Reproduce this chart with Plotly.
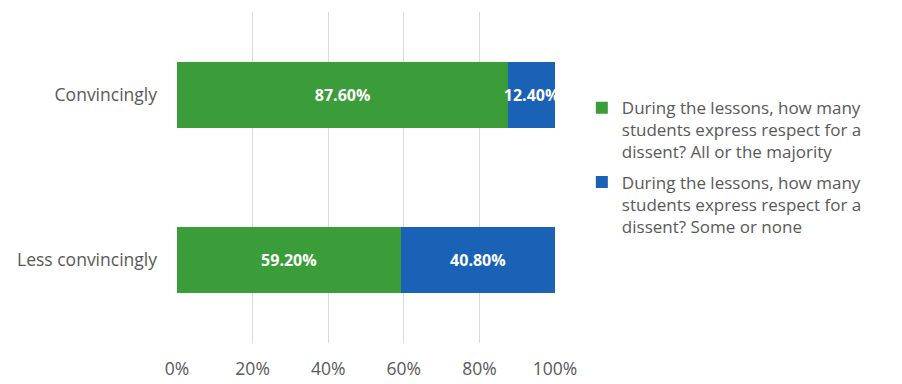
import plotly.graph_objects as go

categories = ["Less convincingly", "Convincingly"]
majority = [59.2, 87.6]
some_none = [40.8, 12.4]
series_names = [
    "During the lessons, how many<br>students express respect for a<br>dissent? All or the majority",
    "During the lessons, how many<br>students express respect for a<br>dissent? Some or none",
]
tick_vals = [0, 20, 40, 60, 80, 100]
tick_text = ["0%", "20%", "40%", "60%", "80%", "100%"]

green = "#3a9d3a"
blue = "#1a62b6"
gray_text = "#595959"
font_family = "'Open Sans', sans-serif"

fig = go.Figure()
for vals, name, color, grp in [(majority, series_names[0], green, "a"),
                               (some_none, series_names[1], blue, "b")]:
    fig.add_trace(go.Bar(
        y=categories, x=vals, orientation="h", name=name,
        marker=dict(color=color, line=dict(width=0)),
        text=[f"{v:.2f}%" for v in vals], textposition="inside",
        insidetextanchor="middle", constraintext="none", textangle=0,
        textfont=dict(color="white", size=16, family=font_family, weight="bold"),
        legendgroup=grp, cliponaxis=False,
    ))

fig.update_layout(
    barmode="stack",
    bargap=0.6,
    width=894, height=376,
    margin=dict(l=169, r=347, t=4, b=37),
    paper_bgcolor="white", plot_bgcolor="white",
    font=dict(family=font_family, color=gray_text, size=15),
    showlegend=True,
    legend=dict(
        x=1.071, xanchor="left", y=0.764, yanchor="top",
        font=dict(size=17, color=gray_text, family=font_family),
        tracegroupgap=5, traceorder="grouped", valign="top",
        itemwidth=30, bgcolor="rgba(0,0,0,0)",
    ),
)
fig.update_xaxes(
    range=[0, 100], tickvals=tick_vals, ticktext=tick_text,
    showgrid=True, gridcolor="#d9d9d9", gridwidth=1,
    zeroline=False, showline=False, ticks="",
    tickfont=dict(size=17.5, color=gray_text), ticklabelstandoff=13,
    fixedrange=True,
)
fig.update_yaxes(
    showgrid=False, zeroline=False, showline=False, ticks="",
    tickfont=dict(size=17.5, color=gray_text), ticklabelstandoff=19,
    fixedrange=True,
)

fig.write_html("out.html")
